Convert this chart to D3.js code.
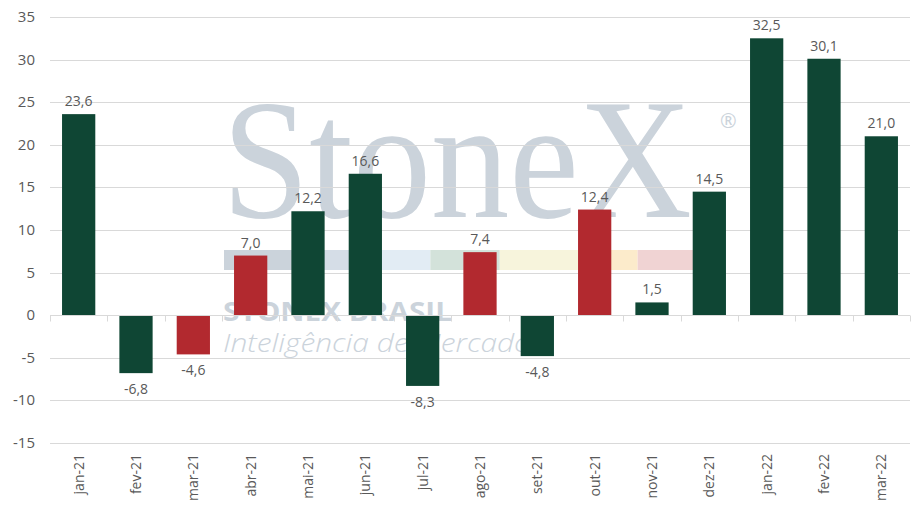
<!DOCTYPE html>
<html><head><meta charset="utf-8">
<script src="https://cdn.jsdelivr.net/npm/d3@7"></script>
<style>body{margin:0;background:#fff}svg{display:block}</style>
</head><body>
<script>
const categories = ["jan-21","fev-21","mar-21","abr-21","mai-21","jun-21","jul-21","ago-21","set-21","out-21","nov-21","dez-21","jan-22","fev-22","mar-22"];
const values = [23.6,-6.8,-4.6,7.0,12.2,16.6,-8.3,7.4,-4.8,12.4,1.5,14.5,32.5,30.1,21.0];
const highlighted = ["mar-21","abr-21","ago-21","out-21"];
const yTicks = [-15,-10,-5,0,5,10,15,20,25,30,35];
const bandColors = ["#cbd3db","#d5dde7","#e2ecf4","#d3e2da","#f7f4dc","#fcebcb","#f0d3d3"];
const bandStops = [0,0.205,0.327,0.44,0.588,0.799,0.882,1];

const W=924,H=518;
const svg=d3.select("body").append("svg").attr("width",W).attr("height",H);
const x=d3.scaleBand().domain(categories).range([50,910]).paddingInner(0.42).paddingOuter(0.21);
const y=d3.scaleLinear().domain([-15,35]).range([443,17]);
const font="'Open Sans', sans-serif";
const txt="#595959";

// watermark
const wm=svg.append("g");
wm.append("text").attr("x",222).attr("y",217).attr("textLength",470).attr("lengthAdjust","spacingAndGlyphs")
  .attr("font-family","'Liberation Serif', serif").attr("font-size",172).attr("fill","#cbd3db").text("StoneX");
wm.append("text").attr("x",720).attr("y",128).attr("font-family",font).attr("font-size",20).attr("fill","#cbd3db").text("®");
const bx=d3.scaleLinear().domain([0,1]).range([224,693]);
bandColors.forEach((c,i)=>{
  wm.append("rect").attr("x",bx(bandStops[i])).attr("y",250).attr("width",bx(bandStops[i+1])-bx(bandStops[i])).attr("height",20).attr("fill",c);
});
wm.append("text").attr("x",223).attr("y",321).attr("textLength",229).attr("lengthAdjust","spacingAndGlyphs")
  .attr("font-family",font).attr("font-weight",700).attr("font-size",26).attr("fill","#cbd3db").text("STONEX BRASIL");
wm.append("text").attr("x",223).attr("y",352).attr("textLength",308).attr("lengthAdjust","spacingAndGlyphs")
  .attr("font-family",font).attr("font-style","italic").attr("font-weight",300).attr("font-size",25).attr("fill","#cbd3db").text("Inteligência de Mercado");

// gridlines
svg.append("g").selectAll("line").data(yTicks).join("line")
  .attr("x1",50).attr("x2",910).attr("y1",d=>Math.round(y(d))+0.5).attr("y2",d=>Math.round(y(d))+0.5)
  .attr("stroke","#d9d9d9").attr("stroke-width",1);

// y labels
svg.append("g").selectAll("text").data(yTicks).join("text")
  .attr("x",35).attr("y",d=>y(d)+5).attr("text-anchor","end")
  .attr("font-family",font).attr("font-size",15).attr("fill",txt).text(d=>d);

// bars
svg.append("g").selectAll("rect").data(categories).join("rect")
  .attr("x",d=>x(d)).attr("width",x.bandwidth())
  .attr("y",(d,i)=>Math.min(y(values[i]),y(0)))
  .attr("height",(d,i)=>Math.abs(y(values[i])-y(0)))
  .attr("fill",d=>highlighted.includes(d)?"#b2292f":"#0f4634");

// zero axis + ticks
const z=Math.round(y(0))+0.5;
svg.append("line").attr("x1",50).attr("x2",910).attr("y1",z).attr("y2",z).attr("stroke","#d9d9d9");
const bounds=categories.map(c=>x(c)-x.step()*x.paddingInner()/2);
bounds[0]=50; bounds.push(910);
svg.append("g").selectAll("line").data(bounds).join("line")
  .attr("x1",d=>Math.round(d)+0.5).attr("x2",d=>Math.round(d)+0.5).attr("y1",z).attr("y2",z+6).attr("stroke","#d9d9d9");

// data labels
const fmt=v=>v.toFixed(1).replace(".",",");
svg.append("g").selectAll("text").data(categories).join("text")
  .attr("x",d=>x(d)+x.bandwidth()/2)
  .attr("y",(d,i)=>values[i]>=0? y(values[i])-8 : y(values[i])+21)
  .attr("text-anchor","middle").attr("font-family",font).attr("font-size",14).attr("fill",txt)
  .text((d,i)=>fmt(values[i]));

// x labels
svg.append("g").selectAll("text").data(categories).join("text")
  .attr("transform",d=>`translate(${x(d)+x.bandwidth()/2+5},454) rotate(-90)`)
  .attr("text-anchor","end").attr("font-family",font).attr("font-size",14).attr("fill",txt).text(d=>d);
</script>
</body></html>
